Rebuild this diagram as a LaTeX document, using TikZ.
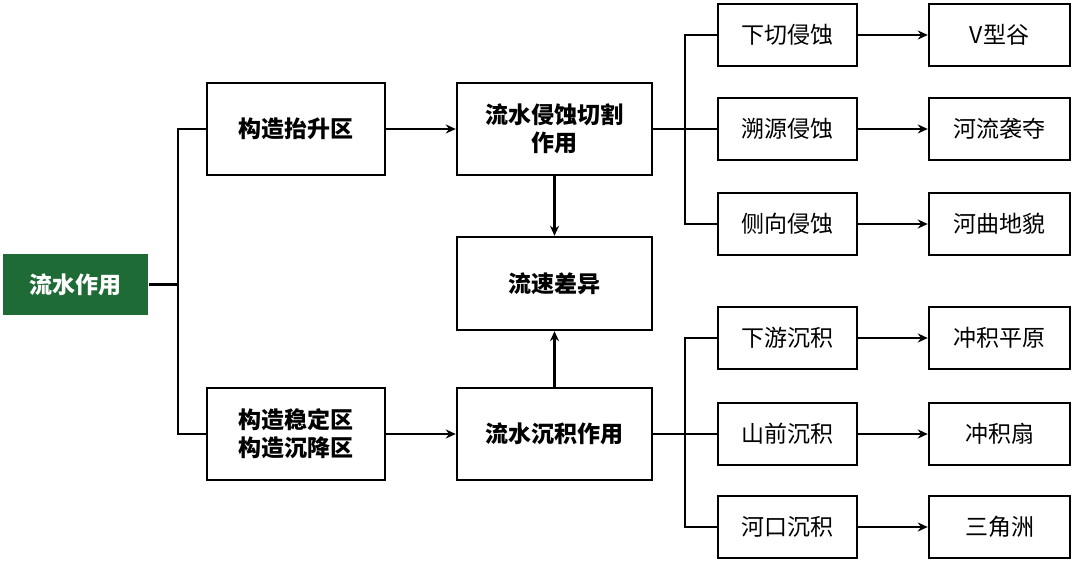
\documentclass[tikz,border=0pt]{standalone}
\usepackage{fontspec}
\setmainfont{Noto Sans CJK SC}
\usetikzlibrary{arrows.meta}
\definecolor{grn}{HTML}{1F6B35}
\begin{document}
\begin{tikzpicture}[x=1pt,y=-1pt,line width=2.4pt,
 box/.style={draw,rectangle,minimum width=178pt,minimum height=92pt,align=center,font=\fontsize{23}{28}\selectfont\bfseries},
 sb/.style={draw,rectangle,minimum width=139pt,minimum height=62pt,font=\fontsize{23}{28}\selectfont},
 rb/.style={draw,rectangle,minimum width=141pt,minimum height=62pt,font=\fontsize{23}{28}\selectfont},
 arr/.style={-{Stealth[length=10pt,width=9pt]}}]
\useasboundingbox (0,0) rectangle (1080,569);
\node[fill=grn,text=white,minimum width=145pt,minimum height=61pt,font=\fontsize{23}{28}\selectfont\bfseries] (w) at (75.5,284.5) {流水作用};
\node[box] (a) at (296,129) {构造抬升区};
\node[box] (b) at (296,434) {构造稳定区\\构造沉降区};
\node[box,minimum width=195pt] (c) at (554.5,129) {流水侵蚀切割\\作用};
\node[box,minimum width=195pt,minimum height=93pt] (d) at (554.5,283.5) {流速差异};
\node[box,minimum width=195pt] (e) at (554.5,434) {流水沉积作用};
\foreach \n/\y/\t/\r in {s1/35/下切侵蚀/V型谷, s2/129/溯源侵蚀/河流袭夺, s3/224/侧向侵蚀/河曲地貌, s4/338/下游沉积/冲积平原, s5/434/山前沉积/冲积扇, s6/527/河口沉积/三角洲}{
 \node[sb] (\n) at (787.5,\y) {\t};
 \node[rb] (r\n) at (999.5,\y) {\r};
 \draw[arr] (\n.east) -- (r\n.west);
}
\coordinate (j) at (178,284.5);
\draw (w.east) -- (j);
\draw (a.west) -| (j) |- (b.west);
\draw[arr] (a.east) -- (c.west);
\draw[arr] (b.east) -- (e.west);
\draw[arr] (c.south) -- (d.north);
\draw[arr] (e.north) -- (d.south);
\coordinate (k1) at (685,129);
\coordinate (k2) at (685,434);
\draw (c.east) -- (k1);
\draw (s1.west) -| (k1) |- (s3.west);
\draw (k1) -- (s2.west);
\draw (e.east) -- (k2);
\draw (s4.west) -| (k2) |- (s6.west);
\draw (k2) -- (s5.west);
\end{tikzpicture}
\end{document}
